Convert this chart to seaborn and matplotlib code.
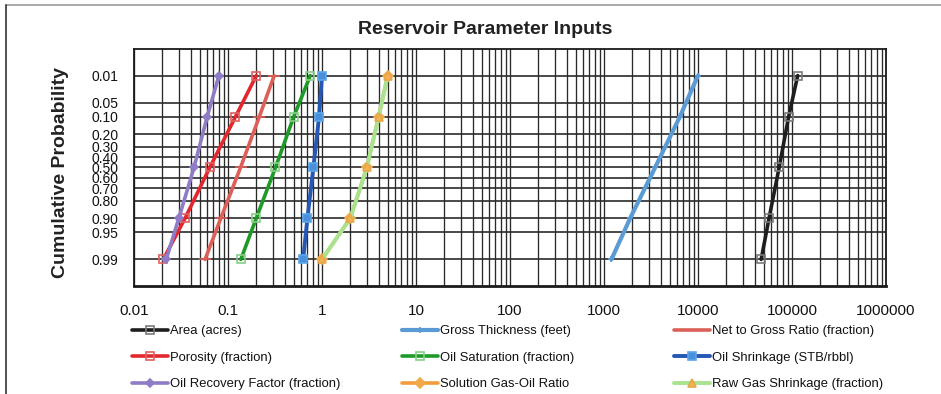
import numpy as np
import pandas as pd
import matplotlib
matplotlib.use("Agg")
import matplotlib.pyplot as plt
from matplotlib.lines import Line2D
from matplotlib.ticker import FixedLocator, FixedFormatter, NullLocator, LogLocator
import seaborn as sns
from statistics import NormalDist

# ---------------- data ----------------
probs = [0.01, 0.10, 0.50, 0.90, 0.99]

series_names = [
    "Area (acres)", "Gross Thickness (feet)", "Net to Gross Ratio (fraction)",
    "Porosity (fraction)", "Oil Saturation (fraction)", "Oil Shrinkage (STB/rbbl)",
    "Oil Recovery Factor (fraction)", "Solution Gas-Oil Ratio", "Raw Gas Shrinkage (fraction)",
]
area = [115000, 92000, 73000, 57000, 47000]
gross_thickness = [10000, 6400, 3500, 1900, 1200]
net_to_gross = [0.31, 0.215, 0.136, 0.084, 0.057]
porosity = [0.20, 0.12, 0.064, 0.035, 0.0205]
oil_saturation = [0.75, 0.50, 0.32, 0.20, 0.137]
oil_shrinkage = [1.0, 0.93, 0.81, 0.70, 0.63]
oil_recovery = [0.08, 0.06, 0.0435, 0.030, 0.022]
solution_gor = [5, 4, 3, 2, 1]
raw_gas_shrinkage = [5, 4, 3, 2, 1]

y_ticks = [0.01, 0.05, 0.10, 0.20, 0.30, 0.40, 0.50, 0.60, 0.70, 0.80, 0.90, 0.95, 0.99]
y_tick_labels = ["0.01", "0.05", "0.10", "0.20", "0.30", "0.40", "0.50", "0.60",
                 "0.70", "0.80", "0.90", "0.95", "0.99"]
x_ticks = [0.01, 0.1, 1, 10, 100, 1000, 10000, 100000, 1000000]
x_tick_labels = ["0.01", "0.1", "1", "10", "100", "1000", "10000", "100000", "1000000"]

values = [area, gross_thickness, net_to_gross, porosity, oil_saturation,
          oil_shrinkage, oil_recovery, solution_gor, raw_gas_shrinkage]

# ---------------- styles ----------------
styles = {
    "Area (acres)": dict(color="#1e1e1e", marker="s", mfc="none", mec="#7a7a7a", ms=6, lw=2.6),
    "Gross Thickness (feet)": dict(color="#5b9bd5", marker="+", mfc="#5b9bd5", mec="#5b9bd5", ms=5, lw=3.0),
    "Net to Gross Ratio (fraction)": dict(color="#dc5f58", marker="_", mfc="#dc5f58", mec="#dc5f58", ms=8, lw=2.6),
    "Porosity (fraction)": dict(color="#e2282e", marker="s", mfc="none", mec="#e26060", ms=6, lw=2.6),
    "Oil Saturation (fraction)": dict(color="#1e9a28", marker="s", mfc="none", mec="#86cf86", ms=6, lw=2.6),
    "Oil Shrinkage (STB/rbbl)": dict(color="#2558b4", marker="s", mfc="#4a8fdc", mec="#5ba5e8", ms=6, lw=2.8),
    "Oil Recovery Factor (fraction)": dict(color="#8f7cc6", marker="D", mfc="#8f7cc6", mec="#8f7cc6", ms=4, lw=2.6),
    "Solution Gas-Oil Ratio": dict(color="#f39c3c", marker="D", mfc="#f0a848", mec="#f0a848", ms=5, lw=2.6),
    "Raw Gas Shrinkage (fraction)": dict(color="#a8e38e", marker="^", mfc="#f0b455", mec="#e8a848", ms=6, lw=2.8),
}

# ---------------- probability scale ----------------
_nd = NormalDist()


def _fwd_scalar(p):
    if not np.isfinite(p):
        return np.nan
    p = min(max(p, 1e-9), 1 - 1e-9)
    return _nd.inv_cdf(p)


def _inv_scalar(z):
    if not np.isfinite(z):
        return np.nan
    return _nd.cdf(z)


_fwd_v = np.vectorize(_fwd_scalar, otypes=[float])
_inv_v = np.vectorize(_inv_scalar, otypes=[float])


def forward(p):
    return _fwd_v(np.asarray(p, dtype=float))


def inverse(z):
    return _inv_v(np.asarray(z, dtype=float))


# ---------------- figure ----------------
sns.set_style("white")
plt.rcParams["font.family"] = ["Liberation Sans", "DejaVu Sans"]

W, H = 941, 394
fig = plt.figure(figsize=(W / 100, H / 100), dpi=100)
ax = fig.add_axes([134 / W, 1 - 286 / H, 752 / W, 237 / H])

ax.set_xscale("log")
ax.set_yscale("function", functions=(forward, inverse))

for name, vals in zip(series_names, values):
    st = styles[name]
    sns.lineplot(x=vals, y=probs, ax=ax, sort=False, estimator=None, label=name,
                 color=st["color"], marker=st["marker"], markerfacecolor=st["mfc"],
                 markeredgecolor=st["mec"], markersize=st["ms"], markeredgewidth=1.2,
                 linewidth=st["lw"], zorder=3)

ax.set_xlim(0.01, 1000000)
ax.set_ylim(0.99865, 0.00135)

ax.xaxis.set_major_locator(FixedLocator(x_ticks))
ax.xaxis.set_major_formatter(FixedFormatter(x_tick_labels))
ax.xaxis.set_minor_locator(LogLocator(base=10, subs=np.arange(2, 10)))
ax.yaxis.set_major_locator(FixedLocator(y_ticks))
ax.yaxis.set_major_formatter(FixedFormatter(y_tick_labels))
ax.yaxis.set_minor_locator(NullLocator())

ax.grid(which="both", axis="x", color="#2a2a2a", linewidth=0.95, zorder=1)
ax.grid(which="major", axis="y", color="#2a2a2a", linewidth=1.2, zorder=1)
ax.set_axisbelow(True)

ax.tick_params(axis="x", which="major", length=4, width=1, color="#222", direction="out",
               labelsize=11, pad=9, labelcolor="#111")
ax.tick_params(axis="x", which="minor", length=0)
ax.tick_params(axis="y", which="major", length=0, labelsize=10, pad=11, labelcolor="#111")

for side, sp in ax.spines.items():
    sp.set_visible(True)
    sp.set_color("#1a1a1a")
    sp.set_linewidth(1.3)
ax.spines["bottom"].set_linewidth(2.0)

ax.set_xlabel("")
ax.set_ylabel("Cumulative Probability", fontsize=14, fontweight="bold", color="#222")
ax.yaxis.set_label_coords(-0.087, 0.478)

fig.text(485.5 / W, 1 - 30 / H, "Reservoir Parameter Inputs", ha="center", va="center",
         fontsize=14, fontweight="bold", color="#222")

# ---------------- legends (three columns, row-wise order) ----------------
handles, labels = ax.get_legend_handles_labels()
if ax.get_legend() is not None:
    ax.get_legend().remove()
hmap = dict(zip(labels, handles))
columns = [
    (132, [series_names[0], series_names[3], series_names[6]]),
    (402, [series_names[1], series_names[4], series_names[7]]),
    (674, [series_names[2], series_names[5], series_names[8]]),
]
for xpix, names in columns:
    fig.legend([hmap[n] for n in names], names, loc="upper left",
               bbox_to_anchor=(xpix / W, 1 - 325 / H), bbox_transform=fig.transFigure,
               frameon=False, fontsize=9.4, handlelength=2.75, handletextpad=0.15,
               borderpad=0, borderaxespad=0, labelspacing=1.1, labelcolor="#111")

# ---------------- outer border ----------------
fig.add_artist(Line2D([6 / W, 1.0], [1 - 5 / H, 1 - 5 / H], transform=fig.transFigure,
                      color="#9a9a9a", linewidth=1.2))
fig.add_artist(Line2D([6 / W, 6 / W], [0.0, 1 - 5 / H], transform=fig.transFigure,
                      color="#333333", linewidth=1.2))

fig.savefig("out.png", dpi=100)
